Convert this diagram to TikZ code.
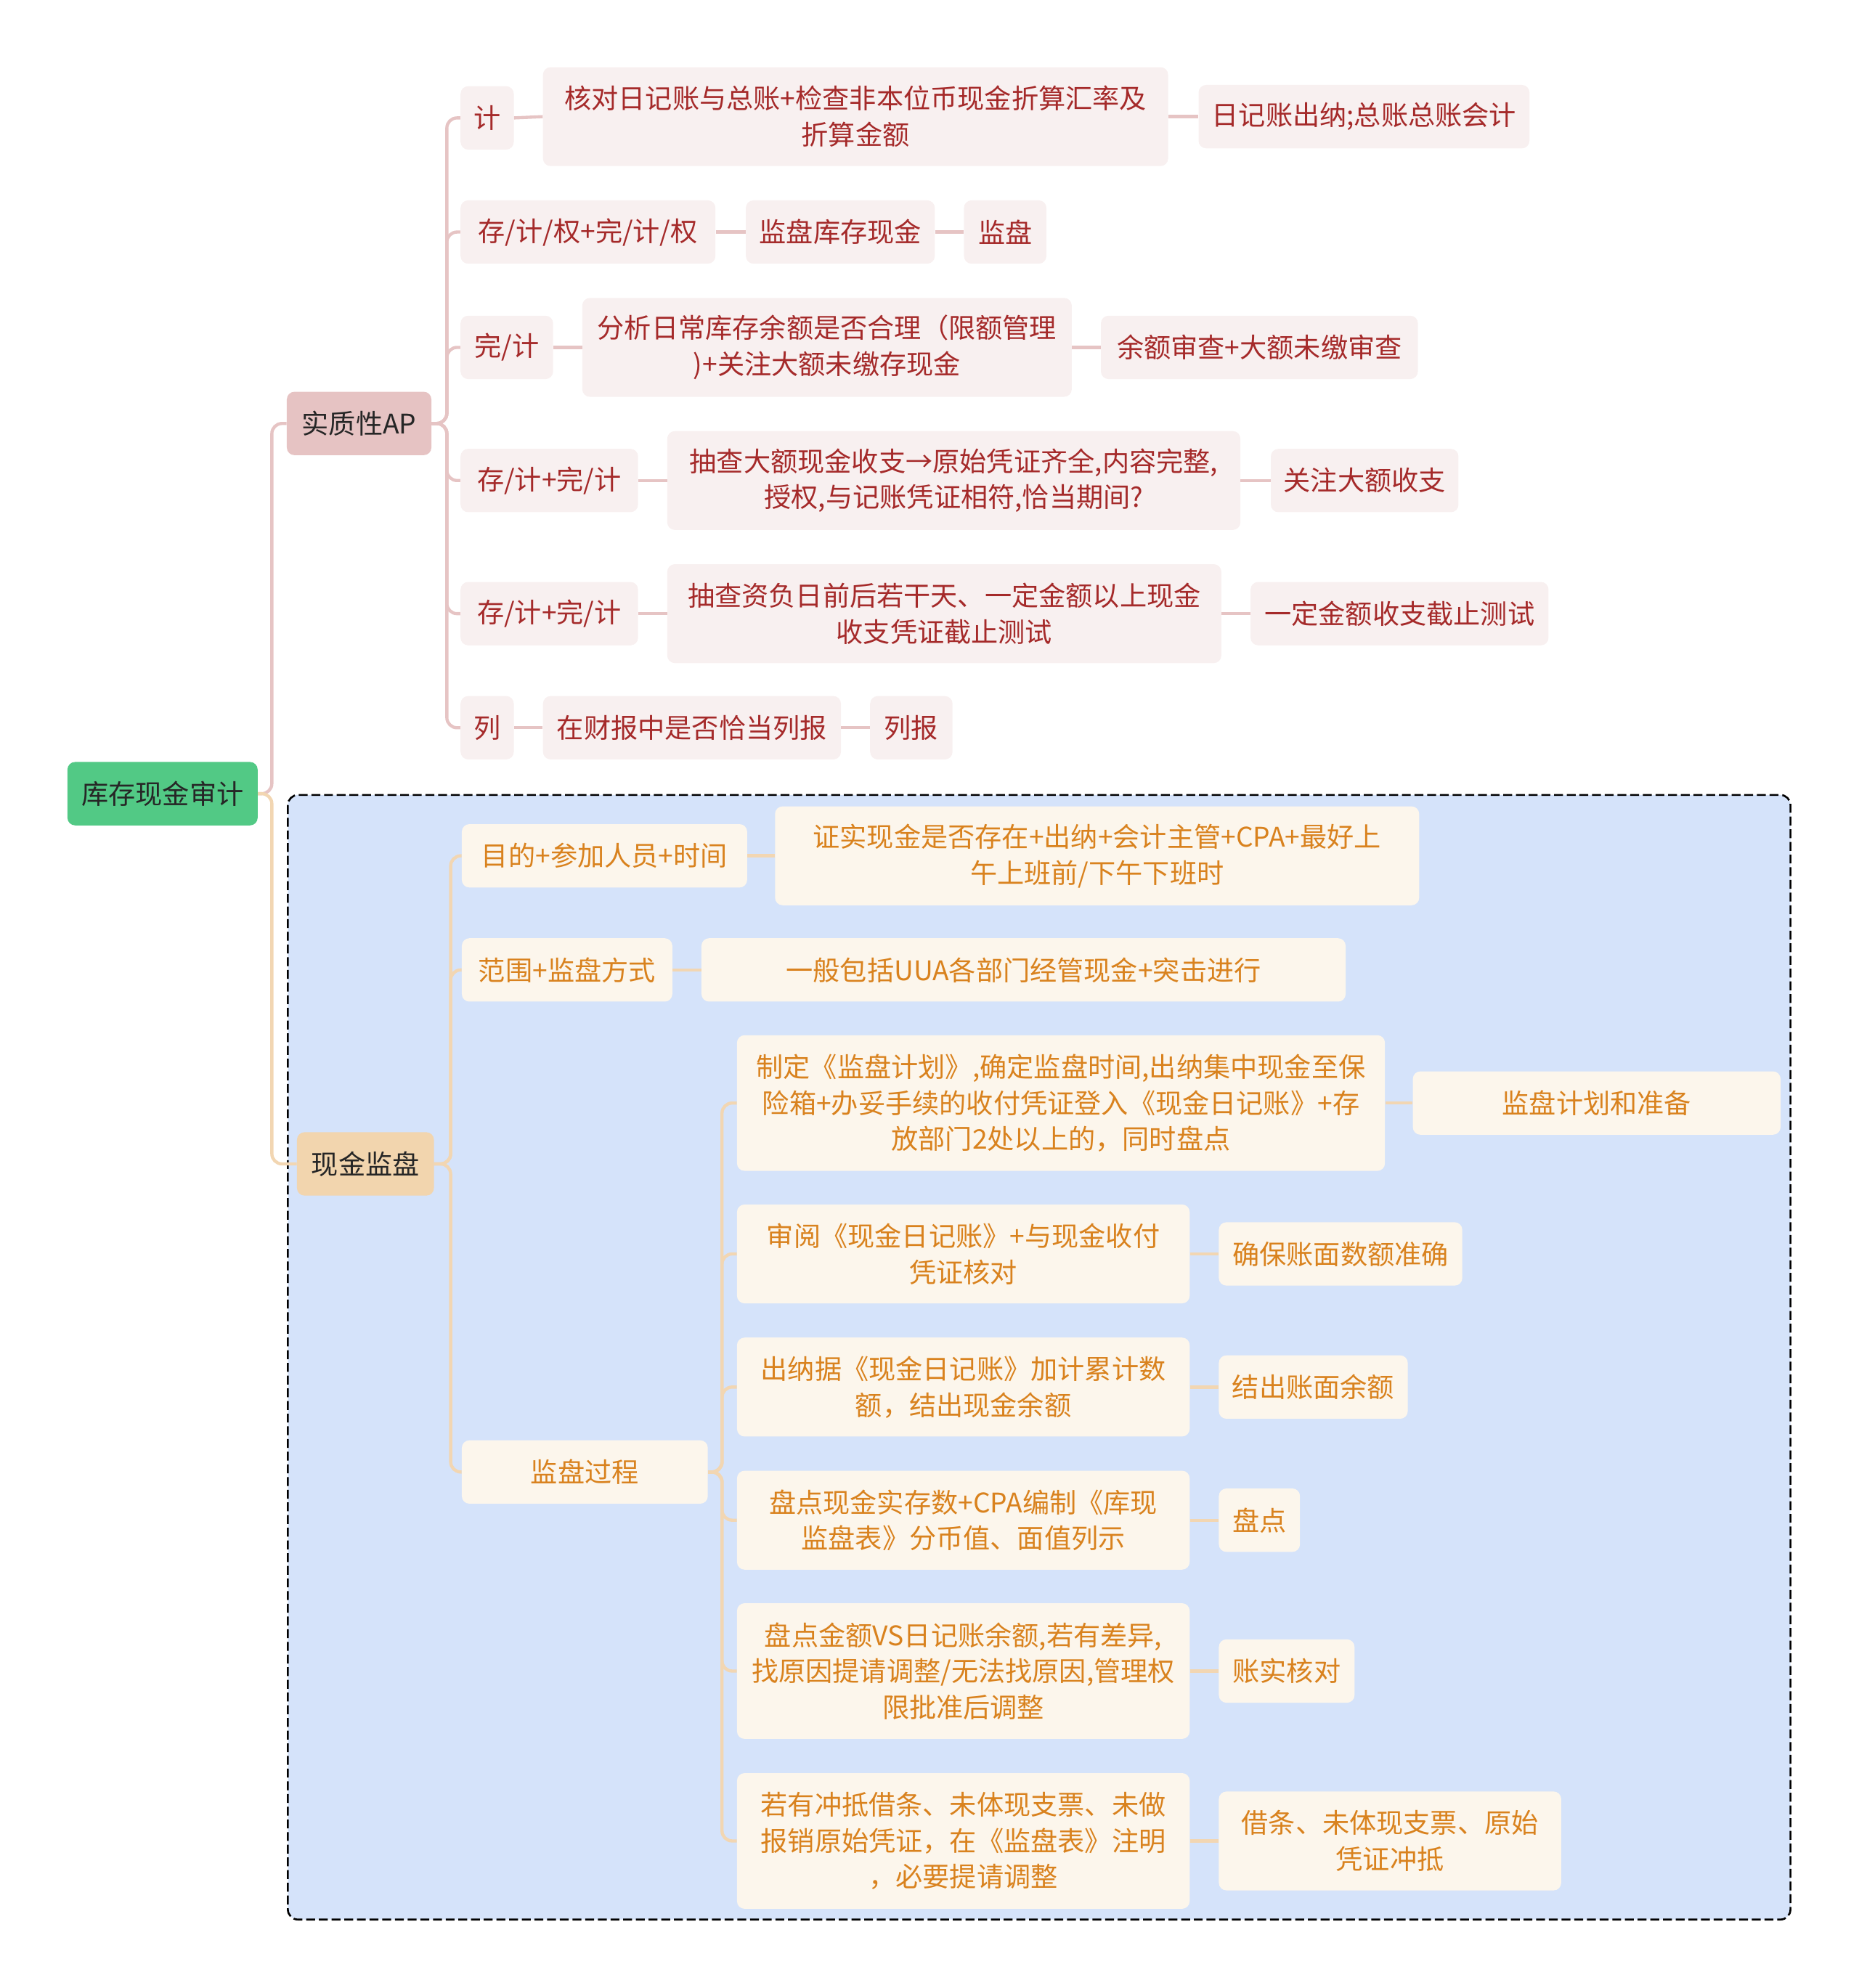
\documentclass[tikz,border=0pt]{standalone}
\usepackage{fontspec}
\setmainfont{Noto Sans CJK SC}
\usetikzlibrary{positioning}
\definecolor{rootgreen}{HTML}{52C985}
\definecolor{apfill}{HTML}{E6C3C3}
\definecolor{jpfill}{HTML}{F2D5AE}
\definecolor{redleaf}{HTML}{F8F0F0}
\definecolor{orangeleaf}{HTML}{FCF6EC}
\definecolor{redtext}{HTML}{A52A2A}
\definecolor{orangetext}{HTML}{D9821E}
\definecolor{redline}{HTML}{E6C4C4}
\definecolor{orangeline}{HTML}{F2D6B2}
\definecolor{panelblue}{HTML}{D5E3FA}
\tikzset{
  box/.style={rounded corners=6pt, align=center, inner sep=0pt, anchor=west,
    font=\fontsize{21.3}{28.5}\selectfont, minimum height=50pt},
  rootbox/.style={box, fill=rootgreen, text=black!85},
  apbox/.style={box, fill=apfill, text=black!85},
  jpbox/.style={box, fill=jpfill, text=black!85},
  redbox/.style={box, fill=redleaf, text=redtext},
  orangebox/.style={box, fill=orangeleaf, text=orangetext},
  redlink/.style={draw=redline, line width=2.5pt, rounded corners=8pt},
  orangelink/.style={draw=orangeline, line width=2.5pt, rounded corners=8pt},
  panel/.style={draw=black, fill=panelblue, line width=1.5pt, rounded corners=8pt,
    dash pattern=on 7pt off 3pt}
}

\begin{document}
\begin{tikzpicture}[x=1pt, y=-1pt]
  \useasboundingbox (0,0) rectangle (1466,1568);

  % dashed panel behind the cash count branch
  \draw[panel] (227,627) rectangle (1412,1514);

  \node[rootbox, minimum width=150pt] (root) at (53,626) {库存现金审计};
  \node[apbox, minimum width=114pt] (ap) at (226,334) {实质性AP};
  \node[jpbox, minimum width=108pt] (jp) at (234,918) {现金监盘};

  % substantive procedures
  \node[redbox, minimum width=42pt] (c1) at (363,93) {计};
  \node[redbox, minimum width=493pt, minimum height=78pt] (c1a) at (428,92) {核对日记账与总账+检查非本位币现金折算汇率及\\折算金额};
  \node[redbox, minimum width=261pt] (c1b) at (945,92) {日记账出纳;总账总账会计};

  \node[redbox, minimum width=201pt] (c2) at (363,183) {存/计/权+完/计/权};
  \node[redbox, minimum width=149pt] (c2a) at (588,183) {监盘库存现金};
  \node[redbox, minimum width=65pt] (c2b) at (760,183) {监盘};

  \node[redbox, minimum width=73pt] (c3) at (363,274) {完/计};
  \node[redbox, minimum width=386pt, minimum height=78pt] (c3a) at (459,274) {分析日常库存余额是否合理（限额管理\\)+关注大额未缴存现金};
  \node[redbox, minimum width=250pt] (c3b) at (868,274) {余额审查+大额未缴审查};

  \node[redbox, minimum width=140pt] (c4) at (363,379) {存/计+完/计};
  \node[redbox, minimum width=452pt, minimum height=78pt] (c4a) at (526,379) {抽查大额现金收支→原始凭证齐全,内容完整,\\授权,与记账凭证相符,恰当期间?};
  \node[redbox, minimum width=148pt] (c4b) at (1002,379) {关注大额收支};

  \node[redbox, minimum width=140pt] (c5) at (363,484) {存/计+完/计};
  \node[redbox, minimum width=437pt, minimum height=78pt] (c5a) at (526,484) {抽查资负日前后若干天、一定金额以上现金\\收支凭证截止测试};
  \node[redbox, minimum width=235pt] (c5b) at (986,484) {一定金额收支截止测试};

  \node[redbox, minimum width=42pt] (c6) at (363,574) {列};
  \node[redbox, minimum width=235pt] (c6a) at (428,574) {在财报中是否恰当列报};
  \node[redbox, minimum width=65pt] (c6b) at (686,574) {列报};

  % cash count
  \node[orangebox, minimum width=225pt] (d1) at (364,675) {目的+参加人员+时间};
  \node[orangebox, minimum width=508pt, minimum height=78pt] (d1a) at (611,675) {证实现金是否存在+出纳+会计主管+CPA+最好上\\午上班前/下午下班时};

  \node[orangebox, minimum width=166pt] (d2) at (364,765) {范围+监盘方式};
  \node[orangebox, minimum width=508pt] (d2a) at (553,765) {一般包括UUA各部门经管现金+突击进行};

  \node[orangebox, minimum width=194pt] (d3) at (364,1161) {监盘过程};

  \node[orangebox, minimum width=511pt, minimum height=107pt] (e1) at (581,870) {制定《监盘计划》,确定监盘时间,出纳集中现金至保\\险箱+办妥手续的收付凭证登入《现金日记账》+存\\放部门2处以上的，同时盘点};
  \node[orangebox, minimum width=290pt] (e1r) at (1114,870) {监盘计划和准备};

  \node[orangebox, minimum width=357pt, minimum height=78pt] (e2) at (581,989) {审阅《现金日记账》+与现金收付\\凭证核对};
  \node[orangebox, minimum width=192pt] (e2r) at (961,989) {确保账面数额准确};

  \node[orangebox, minimum width=357pt, minimum height=78pt] (e3) at (581,1094) {出纳据《现金日记账》加计累计数\\额，结出现金余额};
  \node[orangebox, minimum width=149pt] (e3r) at (961,1094) {结出账面余额};

  \node[orangebox, minimum width=357pt, minimum height=78pt] (e4) at (581,1199) {盘点现金实存数+CPA编制《库现\\监盘表》分币值、面值列示};
  \node[orangebox, minimum width=64pt] (e4r) at (961,1199) {盘点};

  \node[orangebox, minimum width=357pt, minimum height=107pt] (e5) at (581,1318) {盘点金额VS日记账余额,若有差异,\\找原因提请调整/无法找原因,管理权\\限批准后调整};
  \node[orangebox, minimum width=107pt] (e5r) at (961,1318) {账实核对};

  \node[orangebox, minimum width=357pt, minimum height=107pt] (e6) at (581,1452) {若有冲抵借条、未体现支票、未做\\报销原始凭证，在《监盘表》注明\\，必要提请调整};
  \node[orangebox, minimum width=270pt, minimum height=78pt] (e6r) at (961,1452) {借条、未体现支票、原始\\凭证冲抵};

  % connectors
  \draw[redlink] (root.east) -- ++(11,0) |- (ap.west);
  \draw[orangelink] (root.east) -- ++(11,0) |- (jp.west);

  \foreach \c in {c1,c2,c3,c4,c5,c6}
    \draw[redlink] (ap.east) -- ++(12,0) |- (\c.west);
  \foreach \a/\b in {c1/c1a,c1a/c1b,c2/c2a,c2a/c2b,c3/c3a,c3a/c3b,c4/c4a,c4a/c4b,c5/c5a,c5a/c5b,c6/c6a,c6a/c6b}
    \draw[redlink] (\a.east) -- (\b.west);

  \foreach \c in {d1,d2,d3}
    \draw[orangelink] (jp.east) -- ++(13,0) |- (\c.west);
  \foreach \c in {e1,e2,e3,e4,e5,e6}
    \draw[orangelink] (d3.east) -- ++(11,0) |- (\c.west);
  \foreach \a/\b in {d1/d1a,d2/d2a,e1/e1r,e2/e2r,e3/e3r,e4/e4r,e5/e5r,e6/e6r}
    \draw[orangelink] (\a.east) -- (\b.west);
\end{tikzpicture}
\end{document}
